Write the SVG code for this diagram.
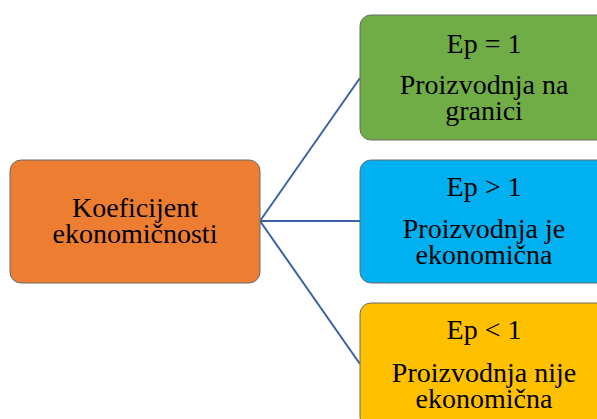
<svg xmlns="http://www.w3.org/2000/svg" width="597" height="419" viewBox="0 0 597 419">
<style>
.box{stroke:#6b6b6b;stroke-width:1}
.t{font-family:"Liberation Serif","Times New Roman",serif;font-size:28px;fill:#000;text-anchor:middle}
.c{stroke:#3b62a8;stroke-width:2;fill:none}
</style>
<rect width="597" height="419" fill="#fff"/>
<g id="connectors">
<line class="c" x1="260" y1="221" x2="360" y2="78"/>
<line class="c" x1="260" y1="221" x2="360" y2="221"/>
<line class="c" x1="260" y1="221" x2="360" y2="364"/>
</g>
<g id="root">
<rect class="box" x="10" y="160" width="250" height="123" rx="11" fill="#ED7D31"/>
<text class="t" x="135" y="216.5">Koeficijent</text>
<text class="t" x="135" y="243">ekonomičnosti</text>
</g>
<g id="eq">
<rect class="box" x="360" y="15" width="250" height="125" rx="11" fill="#70AD47"/>
<text class="t" x="484" y="52.5">Ep = 1</text>
<text class="t" x="484" y="94">Proizvodnja na</text>
<text class="t" x="484" y="120">granici</text>
</g>
<g id="gt">
<rect class="box" x="360" y="160" width="250" height="123" rx="11" fill="#00B0F0"/>
<text class="t" x="484" y="196">Ep &gt; 1</text>
<text class="t" x="484" y="237.5">Proizvodnja je</text>
<text class="t" x="484" y="263.5">ekonomična</text>
</g>
<g id="lt">
<rect class="box" x="360" y="303" width="250" height="125" rx="11" fill="#FFC000"/>
<text class="t" x="484" y="339">Ep &lt; 1</text>
<text class="t" x="484" y="382">Proizvodnja nije</text>
<text class="t" x="484" y="408">ekonomična</text>
</g>
</svg>
